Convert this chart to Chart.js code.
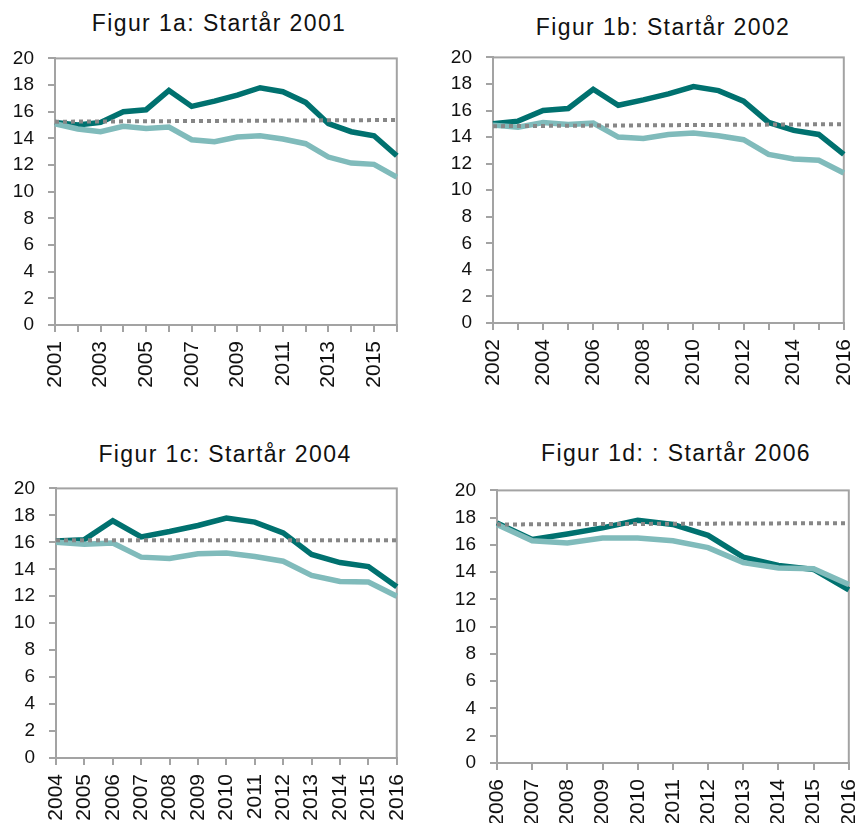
<!DOCTYPE html>
<html>
<head>
<meta charset="utf-8">
<script src="https://cdn.jsdelivr.net/npm/chart.js@4.4.1/dist/chart.umd.min.js"></script>
<style>
    html, body { margin: 0; padding: 0; background: #fff; overflow: hidden; }
    body { width: 856px; height: 823px; position: relative; }
    .titel {
        position: absolute;
        font-family: "Liberation Sans", Arial, sans-serif;
        font-size: 23px;
        line-height: 23px;
        letter-spacing: 1.4px;
        color: #111;
        white-space: nowrap;
        transform: translateX(-50%);
    }
    .ruta { position: absolute; }
</style>
</head>
<body>
<div class="titel" style="left:219px; top:12px;">Figur 1a: Startår 2001</div>
<div class="titel" style="left:663px; top:16px;">Figur 1b: Startår 2002</div>
<div class="titel" style="left:225px; top:443px;">Figur 1c: Startår 2004</div>
<div class="titel" style="left:676px; top:442px;">Figur 1d: : Startår 2006</div>

<div class="ruta" id="ruta1a"><canvas id="fig1a" width="450" height="400"></canvas></div>
<div class="ruta" id="ruta1b"><canvas id="fig1b" width="450" height="400"></canvas></div>
<div class="ruta" id="ruta1c"><canvas id="fig1c" width="450" height="400"></canvas></div>
<div class="ruta" id="ruta1d"><canvas id="fig1d" width="450" height="400"></canvas></div>

<script>
// Data avläst från figurerna

// Figur 1a: Startår 2001
const ar1a = ['2001', '2002', '2003', '2004', '2005', '2006', '2007', '2008',
              '2009', '2010', '2011', '2012', '2013', '2014', '2015', '2016'];
const mork1a = [15.2, 15.0, 15.2, 16.0, 16.15, 17.6, 16.4, 16.8, 17.25, 17.8, 17.5, 16.7, 15.1, 14.5, 14.2, 12.7];
const ljus1a = [15.1, 14.7, 14.5, 14.9, 14.75, 14.85, 13.9, 13.75, 14.1, 14.2, 13.95, 13.6, 12.6, 12.15, 12.05, 11.1];
const ref1a = [15.25, null, null, null, null, null, null, null, null, null, null, null, null, null, null, 15.38];

// Figur 1b: Startår 2002
const ar1b = ['2002', '2003', '2004', '2005', '2006', '2007', '2008', '2009',
              '2010', '2011', '2012', '2013', '2014', '2015', '2016'];
const mork1b = [15.0, 15.2, 16.0, 16.15, 17.6, 16.4, 16.8, 17.25, 17.8, 17.5, 16.7, 15.1, 14.5, 14.2, 12.7];
const ljus1b = [14.9, 14.75, 15.1, 14.95, 15.05, 14.0, 13.9, 14.2, 14.3, 14.1, 13.8, 12.7, 12.35, 12.25, 11.3];
const ref1b = [14.82, null, null, null, null, null, null, null, null, null, null, null, null, null, 14.97];

// Figur 1c: Startår 2004
const ar1c = ['2004', '2005', '2006', '2007', '2008', '2009', '2010',
              '2011', '2012', '2013', '2014', '2015', '2016'];
const mork1c = [16.1, 16.2, 17.6, 16.4, 16.8, 17.25, 17.8, 17.5, 16.7, 15.1, 14.5, 14.2, 12.7];
const ljus1c = [16.0, 15.85, 15.95, 14.9, 14.8, 15.15, 15.2, 14.95, 14.6, 13.55, 13.1, 13.05, 12.0];
const ref1c = [16.15, null, null, null, null, null, null, null, null, null, null, null, 16.15];

// Figur 1d: Startår 2006
const ar1d = ['2006', '2007', '2008', '2009', '2010', '2011', '2012', '2013', '2014', '2015', '2016'];
const mork1d = [17.6, 16.4, 16.8, 17.25, 17.8, 17.5, 16.7, 15.1, 14.5, 14.2, 12.7];
const ljus1d = [17.5, 16.3, 16.15, 16.5, 16.5, 16.3, 15.8, 14.7, 14.3, 14.25, 13.1];
const ref1d = [17.5, null, null, null, null, null, null, null, null, null, 17.6];

// Y-axelns steg
const yMin = 0;
const yMax = 20;
const yStep = 2;

const MORK = '#00716f';
const LJUS = '#80bbbb';
const PRICK = '#878787';
const RAM = '#a3a3a3';
const FONT = '"Liberation Sans", Arial, sans-serif';

// Ram runt hela ritytan (Excel-stil)
const ramPlugin = {
    id: 'ram',
    beforeDatasetsDraw(chart) {
        const { ctx, chartArea: a } = chart;
        ctx.save();
        ctx.strokeStyle = RAM;
        ctx.lineWidth = 2;
        ctx.strokeRect(a.left, a.top, a.right - a.left, a.bottom - a.top);
        ctx.restore();
    }
};

// Skapa en delfigur; yta = ritytans läge på sidan
function createFigur(id, labels, mork, ljus, ref, yta, varannan) {
    const canvas = document.getElementById(id);
    const ruta = document.getElementById('ruta' + id.slice(3));
    const ctx = canvas.getContext('2d');
    const xHojd = 70;
    const yBredd = 55;

    const chart = new Chart(ctx, {
        type: 'line',
        data: {
            labels: labels,
            datasets: [
                {
                    label: 'ref',
                    data: ref,
                    borderColor: PRICK,
                    borderWidth: 4,
                    borderDash: [4, 4],
                    borderCapStyle: 'butt',
                    spanGaps: true,
                    pointRadius: 0,
                    order: 0
                },
                {
                    label: 'ljus',
                    data: ljus,
                    borderColor: LJUS,
                    borderWidth: 5.5,
                    pointRadius: 0,
                    tension: 0,
                    order: 1
                },
                {
                    label: 'mork',
                    data: mork,
                    borderColor: MORK,
                    borderWidth: 5.5,
                    pointRadius: 0,
                    tension: 0,
                    order: 2
                }
            ]
        },
        options: {
            responsive: false,
            maintainAspectRatio: false,
            animation: false,
            events: [],
            layout: { padding: 0 },
            plugins: {
                legend: { display: false },
                title: { display: false },
                tooltip: { enabled: false }
            },
            scales: {
                x: {
                    grid: {
                        drawOnChartArea: false,
                        color: RAM,
                        lineWidth: 2,
                        tickLength: 7
                    },
                    border: { color: RAM, width: 2 },
                    ticks: {
                        autoSkip: false,
                        maxRotation: 90,
                        minRotation: 90,
                        color: '#111',
                        padding: 9,
                        font: { family: FONT, size: 21 },
                        callback: function (value, index) {
                            if (varannan && index % 2 !== 0) return '';
                            return this.getLabelForValue(value);
                        }
                    },
                    afterFit: scale => { scale.height = xHojd; }
                },
                y: {
                    min: yMin,
                    max: yMax,
                    grid: {
                        drawOnChartArea: false,
                        color: RAM,
                        lineWidth: 2,
                        tickLength: 7
                    },
                    border: { color: RAM, width: 2 },
                    ticks: {
                        stepSize: yStep,
                        color: '#111',
                        padding: 14,
                        font: { family: FONT, size: 19 }
                    },
                    afterFit: scale => { scale.width = yBredd; }
                }
            }
        },
        plugins: [ramPlugin]
    });

    // Flytta och anpassa duken så att ritytan hamnar rätt
    const a = chart.chartArea;
    const vanster = a.left;
    const topp = a.top;
    const hoger = canvas.width - a.right;
    const botten = canvas.height - a.bottom;
    ruta.style.left = (yta.left - vanster) + 'px';
    ruta.style.top = (yta.top - topp) + 'px';
    chart.resize(
        Math.round(vanster + (yta.right - yta.left) + hoger),
        Math.round(topp + (yta.bottom - yta.top) + botten)
    );
    return chart;
}

createFigur('fig1a', ar1a, mork1a, ljus1a, ref1a, { left: 55, top: 58, right: 397, bottom: 325 }, true);
createFigur('fig1b', ar1b, mork1b, ljus1b, ref1b, { left: 493, top: 57, right: 844, bottom: 323 }, true);
createFigur('fig1c', ar1c, mork1c, ljus1c, ref1c, { left: 56, top: 488, right: 397, bottom: 758 }, false);
createFigur('fig1d', ar1d, mork1d, ljus1d, ref1d, { left: 497, top: 490, right: 849, bottom: 763 }, false);
</script>
</body>
</html>
